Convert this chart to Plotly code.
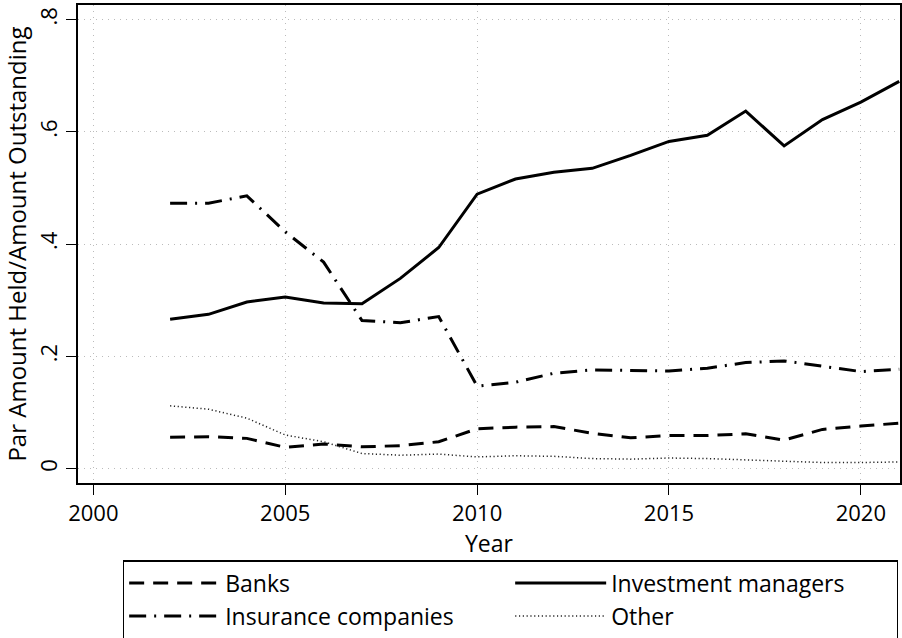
import plotly.graph_objects as go

years = list(range(2002, 2022))

banks = [0.056, 0.057, 0.054, 0.038, 0.044, 0.039, 0.041, 0.048, 0.071, 0.074,
         0.075, 0.063, 0.055, 0.059, 0.059, 0.062, 0.051, 0.070, 0.076, 0.081]
investment_managers = [0.266, 0.275, 0.297, 0.306, 0.295, 0.294, 0.339, 0.394, 0.489, 0.516,
                       0.528, 0.535, 0.558, 0.583, 0.594, 0.637, 0.575, 0.622, 0.653, 0.690]
insurance = [0.473, 0.473, 0.486, 0.422, 0.368, 0.264, 0.260, 0.271, 0.147, 0.154,
             0.170, 0.176, 0.175, 0.174, 0.179, 0.189, 0.192, 0.182, 0.173, 0.177]
other = [0.112, 0.106, 0.090, 0.060, 0.048, 0.027, 0.024, 0.026, 0.021, 0.023,
         0.022, 0.018, 0.017, 0.019, 0.018, 0.016, 0.013, 0.011, 0.011, 0.012]

x_ticks = [2000, 2005, 2010, 2015, 2020]
y_ticks = [0, 0.2, 0.4, 0.6, 0.8]
y_tick_labels = ["0", ".2", ".4", ".6", ".8"]

FONT = "Open Sans"

fig = go.Figure()
fig.add_trace(go.Scatter(x=years, y=banks, mode="lines", name="Banks",
                         line=dict(color="black", width=3, dash="15px,9px")))
fig.add_trace(go.Scatter(x=years, y=investment_managers, mode="lines", name="Investment managers",
                         line=dict(color="black", width=3)))
fig.add_trace(go.Scatter(x=years, y=insurance, mode="lines", name="Insurance companies",
                         line=dict(color="black", width=3, dash="17px,8px,2px,8px")))
fig.add_trace(go.Scatter(x=years, y=other, mode="lines", name="Other",
                         line=dict(color="#222222", width=1.5, dash="1.2px,2.6px")))

axis_common = dict(
    showline=True, linecolor="black", linewidth=1.5, mirror=True,
    ticks="outside", ticklen=10, tickwidth=1.2, tickcolor="black",
    showgrid=True, gridcolor="#bbbbbb", gridwidth=1, griddash="1px,5px",
    zeroline=False,
    tickfont=dict(family=FONT, size=22, color="black"),
)

fig.update_xaxes(range=[1999.6, 2021.02], tickvals=x_ticks,
                 title=dict(text="Year", font=dict(family=FONT, size=23, color="black"), standoff=0),
                 **axis_common)
fig.update_yaxes(range=[-0.0255, 0.826], tickvals=y_ticks, ticktext=y_tick_labels, tickangle=-90,
                 title=dict(text="Par Amount Held/Amount Outstanding",
                            font=dict(family=FONT, size=24, color="black"), standoff=5),
                 **axis_common)

fig.update_layout(
    width=902, height=638,
    margin=dict(l=78, r=2, t=5, b=155, autoexpand=False),
    paper_bgcolor="white", plot_bgcolor="white",
    font=dict(family=FONT, size=24, color="black"),
    legend=dict(
        orientation="h", x=0.0547, y=-0.162, xanchor="left", yanchor="top",
        entrywidth=280, entrywidthmode="pixels", itemwidth=91,
        bordercolor="black", borderwidth=1.2, bgcolor="white",
        font=dict(family=FONT, size=23, color="black"),
        tracegroupgap=0,
    ),
)

fig.write_html("out.html")
